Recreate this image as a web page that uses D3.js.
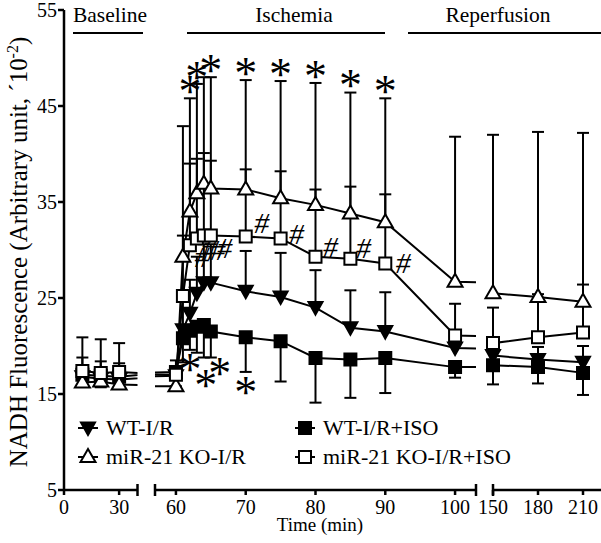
<!DOCTYPE html>
<html><head><meta charset="utf-8">
<script src="https://cdn.jsdelivr.net/npm/d3@7"></script>
<style>
body{margin:0;background:#fff}
svg{display:block}
svg text{font-family:"Liberation Serif","Times New Roman",Times,"DejaVu Serif",serif;fill:#000}
</style>
</head><body>
<svg id="chart" width="601" height="543" font-family="Liberation Serif, Times New Roman, DejaVu Serif, serif"></svg>
<script>
// ---------------- data ----------------
const times = [10,20,30,60,61,62,63,64,65,70,75,80,85,90,100,150,180,210];

const seriesNames = ["WT-I/R","WT-I/R+ISO","miR-21 KO-I/R","miR-21 KO-I/R+ISO"];

const wtIR      = [16.8,16.6,16.5,16.9,21.7,23.4,25.5,26.6,26.6,25.7,25.1,24.0,21.9,21.5,19.8,19.0,18.6,18.3];
const wtIRErr   = [2.0,1.8,1.7,1.0,3.5,3.5,3.8,4.0,4.0,4.2,4.6,3.9,3.9,4.1,1.0,1.0,1.3,1.7];

const wtISO     = [17.0,16.9,16.8,17.3,20.8,21.6,22.0,22.2,21.5,20.9,20.5,18.75,18.6,18.75,17.8,18.0,17.8,17.2];
const wtISOErr  = [1.2,1.2,1.2,1.5,2.5,2.0,2.7,3.4,2.7,3.6,4.2,4.65,4.0,3.65,1.1,2.0,1.7,2.3];

const koIR      = [16.2,16.3,16.0,15.8,29.3,34.0,35.9,36.9,36.4,36.3,35.4,34.7,33.8,32.9,26.7,25.5,25.1,24.6];
const koIRErr   = [1.5,1.5,1.5,1.0,13.6,11.8,11.4,11.1,11.6,11.4,12.2,12.7,12.6,12.9,15.1,16.5,17.2,17.6];

const koISO     = [17.4,17.2,17.3,17.0,25.2,30.5,31.2,31.5,31.5,31.4,31.2,29.3,29.1,28.6,21.1,20.3,20.9,21.4];
const koISOErr  = [3.5,3.5,3.0,1.5,6.3,8.5,8.3,8.6,7.8,7.0,7.0,7.0,7.5,7.2,3.3,3.7,4.5,5.0];

const yTicks = [5,15,25,35,45,55];
const xTicks1 = [0,30];
const xTicks2 = [60,70,80,90,100];
const xTicks3 = [150,180,210];

const phaseLabels = ["Baseline","Ischemia","Reperfusion"];

const starsAbove = [62,63,65,70,75,80,85,90];   // above KO-I/R
const starsBelow = [62,64,65,70];               // below WT-I/R+ISO
const hashTimes  = [62,63,64,65,70,75,80,85,90]; // beside KO-I/R+ISO

// ---------------- layout ----------------
const FONT = "Liberation Serif, Times New Roman, DejaVu Serif, serif";
const svg = d3.select("#chart");
const y = d3.scaleLinear().domain([5,55]).range([490,10]);

const segs = [
  {x: d3.scaleLinear().domain([0,40]).range([64,137.5]), ticks: xTicks1, capL:false, capR:true, x0:64, x1:137.5},
  {x: d3.scaleLinear().domain([57,103]).range([155,476]), ticks: xTicks2, capL:true, capR:true, x0:155, x1:476},
  {x: d3.scaleLinear().domain([150,222]).range([493,601]), ticks: xTicks3, capL:true, capR:false, x0:493, x1:601}
];
function segOf(t){ return t < 45 ? segs[0] : (t < 120 ? segs[1] : segs[2]); }
function xOf(t){ return segOf(t).x(t); }

const defs = svg.append("defs");
segs.forEach((s,i)=>{
  defs.append("clipPath").attr("id","clip"+i)
    .append("rect").attr("x",s.x0).attr("y",0).attr("width",s.x1-s.x0).attr("height",543);
});

const series = [
  {name:seriesNames[0], v:wtIR,  e:wtIRErr,  dir:1,  shape:"tridown", fill:"#000"},
  {name:seriesNames[1], v:wtISO, e:wtISOErr, dir:-1, shape:"square",  fill:"#000"},
  {name:seriesNames[2], v:koIR,  e:koIRErr,  dir:1,  shape:"triup",   fill:"#fff"},
  {name:seriesNames[3], v:koISO, e:koISOErr, dir:1,  shape:"square",  fill:"#fff"}
];

function shapePath(shape){
  if(shape==="triup") return "M0,-8L7.5,5L-7.5,5Z";
  if(shape==="tridown") return "M0,7L7,-5.5L-7,-5.5Z";
  return "M-6,-6H6V6H-6Z";
}
function txt(g){ return g.append("text").attr("font-family",FONT); }

// ---------------- lines (per segment, clipped) ----------------
segs.forEach((s,i)=>{
  const g = svg.append("g").attr("clip-path","url(#clip"+i+")");
  series.forEach(se=>{
    const line = d3.line().x((d,j)=>s.x(times[j])).y(d=>y(d));
    g.append("path").attr("d",line(se.v)).attr("fill","none")
      .attr("stroke","#000").attr("stroke-width",2);
  });
});

// ---------------- error bars ----------------
const eb = svg.append("g").attr("stroke","#000").attr("stroke-width",2);
series.forEach(se=>{
  times.forEach((t,j)=>{
    const cx = xOf(t), y0 = y(se.v[j]), y1 = y(se.v[j] + se.dir*se.e[j]);
    eb.append("line").attr("x1",cx).attr("x2",cx).attr("y1",y0).attr("y2",y1);
    eb.append("line").attr("x1",cx-6).attr("x2",cx+6).attr("y1",y1).attr("y2",y1);
  });
});

// ---------------- markers ----------------
series.forEach(se=>{
  times.forEach((t,j)=>{
    svg.append("path").attr("d",shapePath(se.shape))
      .attr("transform",`translate(${xOf(t)},${y(se.v[j])})`)
      .attr("fill",se.fill).attr("stroke","#000").attr("stroke-width",2);
  });
});

// ---------------- annotations ----------------
const ann = svg.append("g");
const SF = 46;
starsAbove.forEach(t=>{
  const j = times.indexOf(t);
  const cy = y(koIR[j]+koIRErr[j]) - 13;
  txt(ann).attr("x",xOf(t)).attr("y",cy+SF*0.47).attr("text-anchor","middle")
    .attr("font-size",SF).text("*");
});
const belowNudge = [[0,14],[2,22],[9,10],[0,14]];
starsBelow.forEach((t,k)=>{
  const j = times.indexOf(t);
  const cy = y(wtISO[j]-wtISOErr[j]) + belowNudge[k][1];
  txt(ann).attr("x",xOf(t)+belowNudge[k][0]).attr("y",cy+SF*0.47).attr("text-anchor","middle")
    .attr("font-size",SF).text("*");
});
const hashNudge = [[12,12],[12,12],[14,14],[14,12],[16,-14],[16,-4],[15,-10],[13,-11],[18,0]];
hashTimes.forEach((t,k)=>{
  const j = times.indexOf(t);
  const cx = xOf(t)+hashNudge[k][0], cy = y(koISO[j])+hashNudge[k][1];
  txt(ann).attr("x",cx).attr("y",cy+10).attr("text-anchor","middle")
    .attr("font-size",30).attr("font-style","italic").text("#");
});

// ---------------- axes ----------------
const ax = svg.append("g").attr("stroke","#000").attr("stroke-width",2.5);
ax.append("line").attr("x1",64).attr("x2",64).attr("y1",y(55)).attr("y2",y(5)+1);
yTicks.forEach(v=>{
  ax.append("line").attr("x1",58).attr("x2",64).attr("y1",y(v)).attr("y2",y(v));
  txt(svg).attr("x",57).attr("y",y(v)+7).attr("text-anchor","end")
    .attr("font-size",20).text(v);
});
segs.forEach(s=>{
  ax.append("line").attr("x1",s.x0).attr("x2",s.x1).attr("y1",490).attr("y2",490);
  if(s.capL) ax.append("line").attr("x1",s.x0).attr("x2",s.x0).attr("y1",484).attr("y2",496);
  if(s.capR) ax.append("line").attr("x1",s.x1).attr("x2",s.x1).attr("y1",484).attr("y2",496);
  s.ticks.forEach(t=>{
    ax.append("line").attr("x1",s.x(t)).attr("x2",s.x(t)).attr("y1",490).attr("y2",495);
    txt(svg).attr("x",s.x(t)).attr("y",514).attr("text-anchor","middle")
      .attr("font-size",20).text(t);
  });
});
txt(svg).attr("x",320).attr("y",531).attr("text-anchor","middle")
  .attr("font-size",19).text("Time (min)");

const yl = txt(svg).attr("transform","translate(27,252) rotate(-90)")
  .attr("text-anchor","middle").attr("font-size",25);
yl.append("tspan").text("NADH Fluorescence (Arbitrary unit, \u00B410");
yl.append("tspan").attr("font-size",16).attr("dy",-9).text("-2");
yl.append("tspan").attr("dy",9).text(")");

// ---------------- phase labels ----------------
const phases = [
  {cx:110, l0:73, l1:143},
  {cx:294, l0:187, l1:385},
  {cx:498, l0:408, l1:601}
];
phases.forEach((p,i)=>{
  txt(svg).attr("x",p.cx).attr("y",22).attr("text-anchor","middle")
    .attr("font-size",21.5).text(phaseLabels[i]);
  svg.append("line").attr("x1",p.l0).attr("x2",p.l1).attr("y1",33).attr("y2",33)
    .attr("stroke","#000").attr("stroke-width",2);
});

// ---------------- legend ----------------
const legPos = [[88,428],[305,428],[88,457],[305,457]];
series.forEach((se,i)=>{
  const [lx,ly] = legPos[i];
  svg.append("line").attr("x1",lx-10).attr("x2",lx+10).attr("y1",ly).attr("y2",ly)
    .attr("stroke","#000").attr("stroke-width",2);
  svg.append("path").attr("d",shapePath(se.shape)).attr("transform",`translate(${lx},${ly})`)
    .attr("fill",se.fill).attr("stroke","#000").attr("stroke-width",2);
  txt(svg).attr("x",lx+18).attr("y",ly+7).attr("font-size",22).text(se.name);
});
</script>
</body></html>
